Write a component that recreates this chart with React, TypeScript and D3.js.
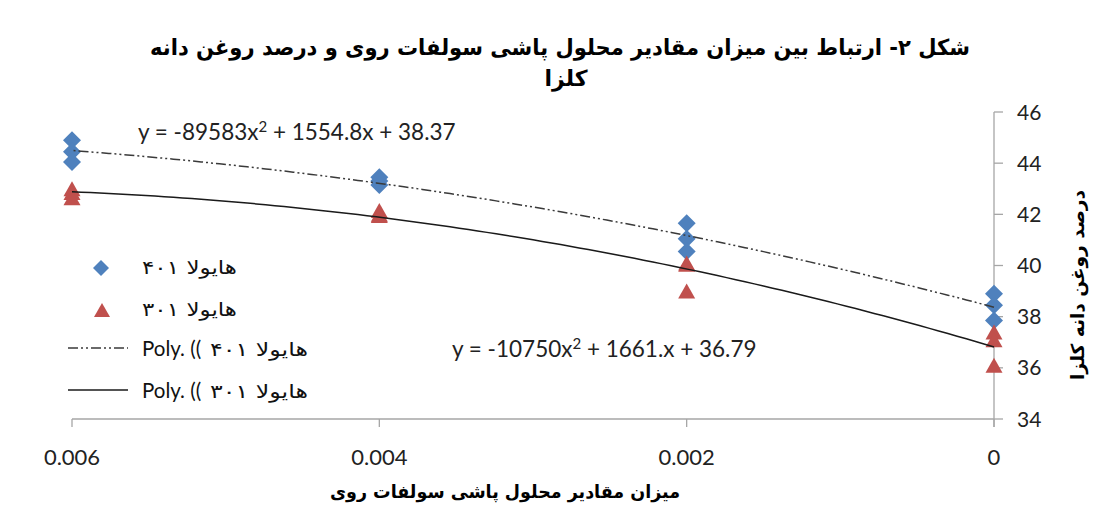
import React from "react";
import * as d3 from "d3";

const doseLevels = [0, 0.002, 0.004, 0.006];
const hyola401 = [
  [38.9, 38.45, 37.85],
  [41.65, 41.05, 40.55],
  [43.45, 43.3, 43.15],
  [44.9, 44.45, 44.05],
];
const hyola301 = [
  [37.4, 37.1, 36.1],
  [40.1, 40.05, 39.0],
  [42.15, 42.0, 41.95],
  [43.0, 42.85, 42.65],
];
const xTicks = [0.006, 0.004, 0.002, 0];
const xTickLabels = ["0.006", "0.004", "0.002", "0"];
const yTicks = [34, 36, 38, 40, 42, 44, 46];

const titleLine1 = "شکل ۲- ارتباط بین میزان مقادیر محلول پاشی سولفات روی و درصد روغن دانه";
const titleLine2 = "کلزا";
const xTitle = "میزان مقادیر محلول پاشی سولفات روی";
const yTitle = "درصد روغن دانه کلزا";
const legendName401 = "هایولا ۴۰۱";
const legendName301 = "هایولا ۳۰۱";

const W = 1101;
const H = 506;
const C401 = "#4F81BD";
const C301 = "#C0504D";
const AXIS = "#A6A6A6";
const NUM_FONT = "Lato, 'Open Sans', sans-serif";
const FA_FONT = "'DejaVu Sans', sans-serif";

function flatten(groups: number[][]) {
  const pts: [number, number][] = [];
  groups.forEach((g, i) => g.forEach((v) => pts.push([doseLevels[i], v])));
  return pts;
}

// least-squares quadratic fit (as Excel's polynomial trendline)
function quadFit(pts: [number, number][]) {
  const s = [0, 0, 0, 0, 0];
  const t = [0, 0, 0];
  pts.forEach(([x, y]) => {
    for (let k = 0; k < 5; k++) s[k] += Math.pow(x, k);
    for (let k = 0; k < 3; k++) t[k] += y * Math.pow(x, k);
  });
  const A = [
    [s[0], s[1], s[2], t[0]],
    [s[1], s[2], s[3], t[1]],
    [s[2], s[3], s[4], t[2]],
  ];
  for (let i = 0; i < 3; i++) {
    let p = i;
    for (let r = i + 1; r < 3; r++) if (Math.abs(A[r][i]) > Math.abs(A[p][i])) p = r;
    [A[i], A[p]] = [A[p], A[i]];
    for (let r = 0; r < 3; r++) {
      if (r === i) continue;
      const f = A[r][i] / A[i][i];
      for (let c = i; c < 4; c++) A[r][c] -= f * A[i][c];
    }
  }
  const c0 = A[0][3] / A[0][0];
  const c1 = A[1][3] / A[1][1];
  const c2 = A[2][3] / A[2][2];
  return (x: number) => c0 + c1 * x + c2 * x * x;
}

export default function App() {
  const x = d3.scaleLinear().domain([0.006, 0]).range([72, 994]);
  const y = d3.scaleLinear().domain([34, 46]).range([419, 112]);

  const p401 = flatten(hyola401);
  const p301 = flatten(hyola301);
  const f401 = quadFit(p401);
  const f301 = quadFit(p301);
  const samples = d3.range(0, 101).map((i) => (0.006 * i) / 100);
  const line = (f: (v: number) => number) =>
    d3.line<number>().x((v) => x(v)).y((v) => y(f(v))).curve(d3.curveLinear)(samples) || "";

  const diamond = (cx: number, cy: number, r = 9) =>
    `M${cx},${cy - r}L${cx + r},${cy}L${cx},${cy + r}L${cx - r},${cy}Z`;
  const triangle = (cx: number, cy: number, hw = 8.5, h = 15) =>
    `M${cx},${cy - h / 2}L${cx + hw},${cy + h / 2}L${cx - hw},${cy + h / 2}Z`;

  const dashStyle = "10,3,2,3,2,3";
  const fit = "spacingAndGlyphs";

  return (
    <svg
      width={W}
      height={H}
      style={{ position: "absolute", left: 0, top: 0, background: "#fff" }}
    >
      <rect x={0} y={0} width={W} height={H} fill="#fff" />
      {/* title */}
      <text x={560} y={55} textAnchor="middle" fontFamily={FA_FONT} fontWeight="bold" fontSize={22}
        fill="#000" textLength={820} lengthAdjust={fit}>
        {titleLine1}
      </text>
      <text x={566} y={86} textAnchor="middle" fontFamily={FA_FONT} fontWeight="bold" fontSize={22} fill="#000">
        {titleLine2}
      </text>

      {/* axes */}
      <line x1={x(0.006)} x2={x(0)} y1={y(34)} y2={y(34)} stroke={AXIS} strokeWidth={1.3} />
      <line x1={x(0)} x2={x(0)} y1={y(46)} y2={427} stroke={AXIS} strokeWidth={1.3} />
      {xTicks.map((t, i) => (
        <g key={"xt" + i}>
          <line x1={x(t)} x2={x(t)} y1={y(34)} y2={427} stroke={AXIS} strokeWidth={1.3} />
          <text x={x(t)} y={465} textAnchor="middle" fontFamily={NUM_FONT} fontSize={22} fill="#222">
            {xTickLabels[i]}
          </text>
        </g>
      ))}
      {yTicks.map((t) => (
        <g key={"yt" + t}>
          <line x1={x(0)} x2={1003} y1={y(t)} y2={y(t)} stroke={AXIS} strokeWidth={1.3} />
          <text x={1017} y={y(t) + 7.5} fontFamily={NUM_FONT} fontSize={21} fill="#222">
            {t}
          </text>
        </g>
      ))}

      {/* axis titles */}
      <text x={505} y={498} textAnchor="middle" fontFamily={FA_FONT} fontWeight="bold" fontSize={18}
        fill="#000" textLength={350} lengthAdjust={fit}>
        {xTitle}
      </text>
      <text
        transform={`translate(1084,285) rotate(-90)`}
        textAnchor="middle"
        fontFamily={FA_FONT}
        fontWeight="bold"
        fontSize={18}
        fill="#000"
        textLength={190}
        lengthAdjust={fit}
      >
        {yTitle}
      </text>

      {/* markers */}
      {p401.map(([a, b], i) => (
        <path key={"d" + i} d={diamond(x(a), y(b))} fill={C401} />
      ))}
      {p301.map(([a, b], i) => (
        <path key={"t" + i} d={triangle(x(a), y(b))} fill={C301} />
      ))}

      {/* trendlines */}
      <path d={line(f401)} fill="none" stroke="#3a3a3a" strokeWidth={1.5} strokeDasharray={dashStyle} />
      <path d={line(f301)} fill="none" stroke="#1a1a1a" strokeWidth={1.5} />

      {/* equations */}
      <text x={138} y={140} fontFamily={NUM_FONT} fontSize={22.5} fill="#222">
        y = -89583x<tspan dy={-8} fontSize={15}>2</tspan>
        <tspan dy={8}> + 1554.8x + 38.37</tspan>
      </text>
      <text x={452} y={357} fontFamily={NUM_FONT} fontSize={22.5} fill="#222">
        y = -10750x<tspan dy={-8} fontSize={15}>2</tspan>
        <tspan dy={8}> + 1661.x + 36.79</tspan>
      </text>

      {/* legend */}
      <path d={diamond(101, 268, 8)} fill={C401} />
      <text x={237} y={274} textAnchor="end" fontFamily={FA_FONT} fontSize={19} fill="#111"
        textLength={95} lengthAdjust={fit}>
        {legendName401}
      </text>
      <path d={triangle(102, 310, 8, 14)} fill={C301} />
      <text x={237} y={316} textAnchor="end" fontFamily={FA_FONT} fontSize={19} fill="#111"
        textLength={95} lengthAdjust={fit}>
        {legendName301}
      </text>
      <line x1={68} x2={128} y1={348} y2={348} stroke="#3a3a3a" strokeWidth={1.5} strokeDasharray={dashStyle} />
      <text x={142} y={356} fontFamily={NUM_FONT} fontSize={20.5} fill="#111">
        Poly. ((
      </text>
      <text x={308} y={356} textAnchor="end" fontFamily={FA_FONT} fontSize={19} fill="#111"
        textLength={98} lengthAdjust={fit}>
        {legendName401}
      </text>
      <line x1={68} x2={128} y1={390} y2={390} stroke="#1a1a1a" strokeWidth={1.5} />
      <text x={142} y={398} fontFamily={NUM_FONT} fontSize={20.5} fill="#111">
        Poly. ((
      </text>
      <text x={308} y={398} textAnchor="end" fontFamily={FA_FONT} fontSize={19} fill="#111"
        textLength={98} lengthAdjust={fit}>
        {legendName301}
      </text>
    </svg>
  );
}
